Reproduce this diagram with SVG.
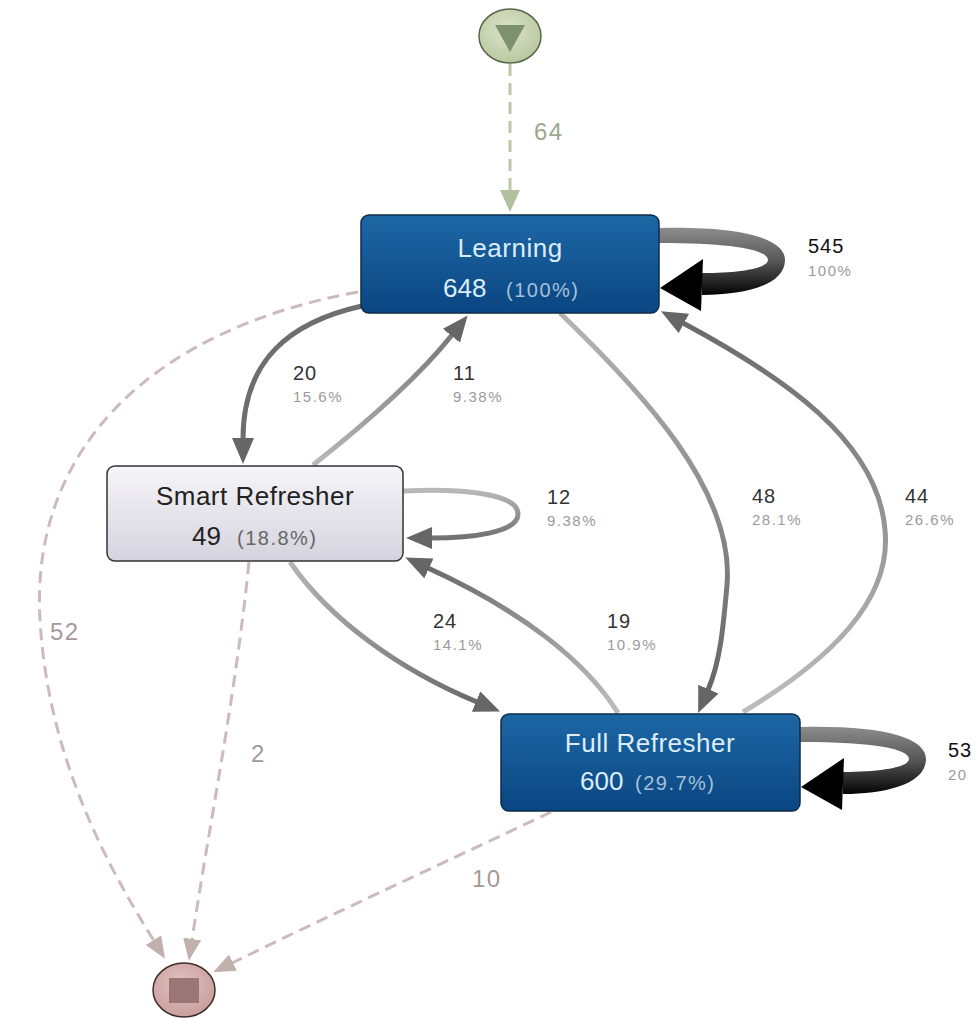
<svg xmlns="http://www.w3.org/2000/svg" width="980" height="1018" viewBox="0 0 980 1018">
  <style>
    text { font-family: "Liberation Sans", Arial, sans-serif; }
    .name { font-size: 26px; letter-spacing: 0.5px; text-anchor: middle; }
    .cnt { font-size: 26px; }
    .pct { font-size: 20px; letter-spacing: 1.5px; }
    .blue .name, .blue .cnt { fill: #dcedf9; }
    .blue .pct { fill: #a6c0d8; }
    .grey .name, .grey .cnt { fill: #222; }
    .grey .pct { fill: #666; }
    .box { stroke-width: 1.5; }
    .elab { font-size: 20px; letter-spacing: 1px; fill: #333; }
    .elab.strong { fill: #111; }
    .eprc { font-size: 15px; letter-spacing: 1.5px; fill: #9a9a9a; }
    .dlab { font-size: 24px; letter-spacing: 1.5px; fill: #a89896; }
    .edge { fill: none; stroke-width: 5; }
    .dash { fill: none; stroke: #cbbcb9; stroke-width: 3; stroke-dasharray: 12 7; }
  </style>
  <defs>
    <linearGradient id="gBlue" x1="0" y1="0" x2="0" y2="1">
      <stop offset="0" stop-color="#1d67a5"/>
      <stop offset="1" stop-color="#0a4682"/>
    </linearGradient>
    <linearGradient id="gGrey" x1="0" y1="0" x2="0" y2="1">
      <stop offset="0" stop-color="#f6f5f9"/>
      <stop offset="1" stop-color="#d5d3dd"/>
    </linearGradient>
    <radialGradient id="gStart" cx="0.45" cy="0.4" r="0.7">
      <stop offset="0" stop-color="#dbe4c9"/>
      <stop offset="1" stop-color="#b4c49a"/>
    </radialGradient>
    <radialGradient id="gEnd" cx="0.45" cy="0.4" r="0.7">
      <stop offset="0" stop-color="#e3c2c0"/>
      <stop offset="1" stop-color="#c59a98"/>
    </radialGradient>
    <linearGradient id="gLoopL" gradientUnits="userSpaceOnUse" x1="0" y1="228" x2="0" y2="296">
      <stop offset="0" stop-color="#8c8c8c"/>
      <stop offset="0.5" stop-color="#555"/>
      <stop offset="1" stop-color="#000"/>
    </linearGradient>
    <linearGradient id="gLoopF" gradientUnits="userSpaceOnUse" x1="0" y1="727" x2="0" y2="795">
      <stop offset="0" stop-color="#8c8c8c"/>
      <stop offset="0.5" stop-color="#555"/>
      <stop offset="1" stop-color="#000"/>
    </linearGradient>
    <!-- fading strokes: light at the source, darker at the arrow -->
    <linearGradient id="g11" gradientUnits="userSpaceOnUse" x1="313" y1="465" x2="452" y2="335">
      <stop offset="0" stop-color="#b8b8b8"/><stop offset="1" stop-color="#7a7a7a"/>
    </linearGradient>
    <linearGradient id="g12" gradientUnits="userSpaceOnUse" x1="0" y1="491" x2="0" y2="538">
      <stop offset="0" stop-color="#b8b8b8"/><stop offset="1" stop-color="#707070"/>
    </linearGradient>
    <linearGradient id="g24" gradientUnits="userSpaceOnUse" x1="290" y1="562" x2="477" y2="702">
      <stop offset="0" stop-color="#b4b4b4"/><stop offset="1" stop-color="#6a6a6a"/>
    </linearGradient>
    <linearGradient id="g19" gradientUnits="userSpaceOnUse" x1="618" y1="713" x2="428" y2="568">
      <stop offset="0" stop-color="#bdbdbd"/><stop offset="1" stop-color="#6a6a6a"/>
    </linearGradient>
    <linearGradient id="g48" gradientUnits="userSpaceOnUse" x1="0" y1="313" x2="0" y2="690">
      <stop offset="0" stop-color="#b4b4b4"/><stop offset="1" stop-color="#666"/>
    </linearGradient>
    <linearGradient id="g44" gradientUnits="userSpaceOnUse" x1="0" y1="712" x2="0" y2="323">
      <stop offset="0" stop-color="#bdbdbd"/><stop offset="1" stop-color="#6a6a6a"/>
    </linearGradient>
    <marker id="aDark" markerUnits="userSpaceOnUse" markerWidth="28" markerHeight="24" refX="1" refY="11" orient="auto">
      <path d="M0,0 L26,11 L0,22 Z" fill="#666"/>
    </marker>
    <marker id="aDash" markerUnits="userSpaceOnUse" markerWidth="24" markerHeight="20" refX="1" refY="9" orient="auto">
      <path d="M0,0 L22,9 L0,18 Z" fill="#c2b0ad"/>
    </marker>
    <marker id="aGreen" markerUnits="userSpaceOnUse" markerWidth="24" markerHeight="22" refX="1" refY="10" orient="auto">
      <path d="M0,0 L22,10 L0,20 Z" fill="#b3c09e"/>
    </marker>
  </defs>

  <g id="connectors">
    <!-- start -> Learning -->
    <path d="M510 64 L510 191" class="dash" stroke="#bcc8a8" style="stroke:#bcc8a8" marker-end="url(#aGreen)"/>
    <text x="534" y="140" class="dlab" style="fill:#9ca88e">64</text>

    <!-- to end node -->
    <path d="M358 292 C150 330 30 450 40 620 C48 760 110 870 154 941" class="dash" marker-end="url(#aDash)"/>
    <text x="50" y="640" class="dlab">52</text>
    <path d="M249 562 C235 700 210 820 192 940" class="dash" marker-end="url(#aDash)"/>
    <text x="251" y="762" class="dlab">2</text>
    <path d="M551 812 C450 860 330 915 232 963" class="dash" marker-end="url(#aDash)"/>
    <text x="472" y="887" class="dlab">10</text>

    <!-- Learning -> Smart Refresher -->
    <path d="M362 306 C290 322 243 360 243 439" class="edge" stroke="#6e6e6e" marker-end="url(#aDark)"/>
    <text x="293" y="380" class="elab">20</text>
    <text x="293" y="402" class="eprc">15.6%</text>

    <!-- Smart Refresher -> Learning -->
    <path d="M313 465 C370 420 420 375 452 335" class="edge" stroke="url(#g11)" marker-end="url(#aDark)"/>
    <text x="453" y="380" class="elab">11</text>
    <text x="453" y="402" class="eprc">9.38%</text>

    <!-- Smart Refresher self loop -->
    <path d="M403 491 C470 488 518 495 518 514 C518 533 470 538 431 538" class="edge" stroke="url(#g12)" stroke-width="4.5" marker-end="url(#aDark)"/>
    <text x="547" y="504" class="elab">12</text>
    <text x="547" y="526" class="eprc">9.38%</text>

    <!-- Smart Refresher -> Full Refresher -->
    <path d="M290 562 C330 620 400 670 477 702" class="edge" stroke="url(#g24)" marker-end="url(#aDark)"/>
    <text x="433" y="628" class="elab">24</text>
    <text x="433" y="650" class="eprc">14.1%</text>

    <!-- Full Refresher -> Smart Refresher -->
    <path d="M618 713 C585 660 520 610 428 568" class="edge" stroke="url(#g19)" marker-end="url(#aDark)"/>
    <text x="607" y="628" class="elab">19</text>
    <text x="607" y="650" class="eprc">10.9%</text>

    <!-- Learning -> Full Refresher -->
    <path d="M560 313 C640 390 735 490 727 585 C723 630 720 662 708 690" class="edge" stroke="url(#g48)" marker-end="url(#aDark)"/>
    <text x="752" y="503" class="elab">48</text>
    <text x="752" y="525" class="eprc">28.1%</text>

    <!-- Full Refresher -> Learning -->
    <path d="M743 712 C830 660 892 600 885 530 C878 440 780 375 683 323" class="edge" stroke="url(#g44)" marker-end="url(#aDark)"/>
    <text x="905" y="503" class="elab">44</text>
    <text x="905" y="525" class="eprc">26.6%</text>

    <!-- Learning self loop -->
    <path d="M659 228 C740 226 785 238 785 260 C785 285 745 295 702 295 L702 273 C740 273 768 268 768 260 C768 250 735 243 659 243 Z" fill="url(#gLoopL)"/>
    <polygon points="660,288 703,259 701,311" fill="#000"/>
    <text x="808" y="253" class="elab strong">545</text>
    <text x="808" y="276" class="eprc">100%</text>

    <!-- Full Refresher self loop -->
    <path d="M800 727 C881 725 926 737 926 759 C926 784 886 794 843 794 L843 772 C881 772 909 767 909 759 C909 749 876 742 800 742 Z" fill="url(#gLoopF)"/>
    <polygon points="801,787 844,758 842,810" fill="#000"/>
    <text x="948" y="757" class="elab strong">53</text>
    <text x="948" y="780" class="eprc">20</text>
  </g>

  <g id="start">
    <ellipse cx="510" cy="36" rx="31" ry="27" fill="url(#gStart)" stroke="#56644a" stroke-width="1.5"/>
    <polygon points="495,25 525,25 510,52" fill="#7d9070"/>
  </g>

  <g id="end">
    <ellipse cx="184" cy="990" rx="31" ry="27" fill="url(#gEnd)" stroke="#3e2c2c" stroke-width="1.5"/>
    <rect x="169" y="978" width="30" height="25" fill="#9b7676"/>
  </g>

  <g id="learning" class="blue">
    <rect x="361" y="215" width="298" height="98" rx="8" class="box" fill="url(#gBlue)" stroke="#0b2c4c"/>
    <text x="510" y="257" class="name">Learning</text>
    <text x="443" y="297" class="cnt">648</text>
    <text x="506" y="297" class="pct">(100%)</text>
  </g>

  <g id="smart-refresher" class="grey">
    <rect x="107" y="466" width="296" height="95" rx="8" class="box" fill="url(#gGrey)" stroke="#333"/>
    <text x="255" y="505" class="name">Smart Refresher</text>
    <text x="192" y="545" class="cnt">49</text>
    <text x="237" y="545" class="pct">(18.8%)</text>
  </g>

  <g id="full-refresher" class="blue">
    <rect x="501" y="714" width="299" height="97" rx="8" class="box" fill="url(#gBlue)" stroke="#0b2c4c"/>
    <text x="650" y="752" class="name">Full Refresher</text>
    <text x="580" y="790" class="cnt">600</text>
    <text x="635" y="790" class="pct">(29.7%)</text>
  </g>
</svg>
